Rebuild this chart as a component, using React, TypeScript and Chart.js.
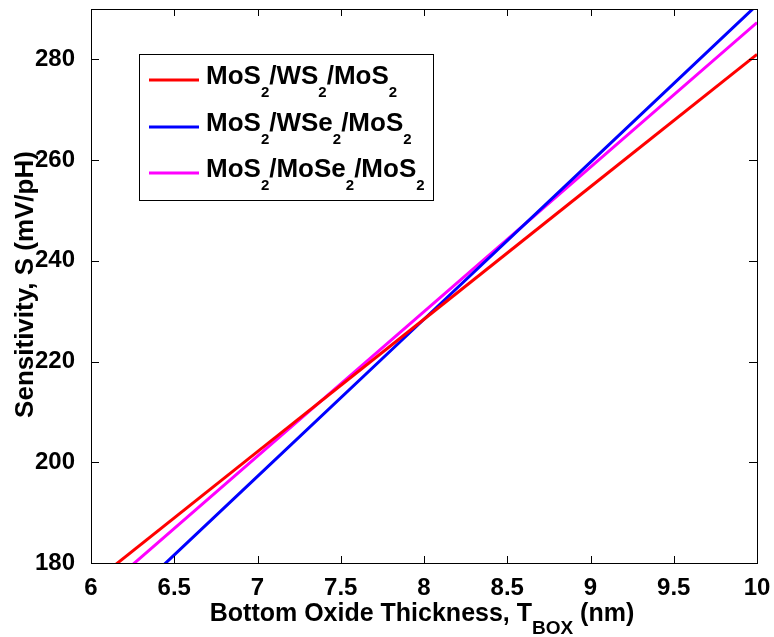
import React, { useEffect, useRef } from "react";
import { Chart, registerables } from "chart.js";

Chart.register(...registerables);

// Bottom oxide thickness T_BOX (nm)
const thickness = [6, 7, 8, 9, 10];
// Sensitivity S (mV/pH)
const mos2Ws2Mos2 = [175.8, 202.1, 228.4, 254.7, 281.0];
const mos2Wse2Mos2 = [166.0, 197.2, 228.4, 259.6, 290.8];
const mos2Mose2Mos2 = [172.5, 201.2, 229.9, 258.6, 287.3];

const xTicks = [6, 6.5, 7, 7.5, 8, 8.5, 9, 9.5, 10];
const yTicks = [180, 200, 220, 240, 260, 280];

const seriesNames = ["MoS2/WS2/MoS2", "MoS2/WSe2/MoS2", "MoS2/MoSe2/MoS2"];
// legend text split into alternating normal / subscript parts
const legendParts = [
  ["MoS", "2", "/WS", "2", "/MoS", "2"],
  ["MoS", "2", "/WSe", "2", "/MoS", "2"],
  ["MoS", "2", "/MoSe", "2", "/MoS", "2"],
];
const seriesColors = ["#ff0000", "#0000ff", "#ff00ff"];

const xTitleParts = ["Bottom Oxide Thickness, T", "BOX", " (nm)"];
const yTitle = "Sensitivity, S (mV/pH)";

const FONT = "'Liberation Sans', Arial, Helvetica, sans-serif";

const decorPlugin = {
  id: "decor",
  afterDatasetsDraw(chart: any) {
    const ctx = chart.ctx as CanvasRenderingContext2D;
    const { left, right, top, bottom } = chart.chartArea;
    const xs = chart.scales.x;
    const ys = chart.scales.y;
    ctx.save();
    ctx.strokeStyle = "#000";
    ctx.lineWidth = 1;
    // frame
    ctx.strokeRect(left + 0.5, top + 0.5, right - left, bottom - top);
    // inner ticks, mirrored on top/right
    ctx.beginPath();
    for (const v of xTicks) {
      const p = Math.round(xs.getPixelForValue(v)) + 0.5;
      ctx.moveTo(p, bottom);
      ctx.lineTo(p, bottom - 7);
      ctx.moveTo(p, top);
      ctx.lineTo(p, top + 7);
    }
    for (const v of yTicks) {
      const p = Math.round(ys.getPixelForValue(v)) + 0.5;
      ctx.moveTo(left, p);
      ctx.lineTo(left + 8, p);
      ctx.moveTo(right, p);
      ctx.lineTo(right - 8, p);
    }
    ctx.stroke();

    // legend
    const lx = 139.5, ly = 54.5, lw = 294, lh = 146;
    ctx.fillStyle = "#fff";
    ctx.fillRect(lx, ly, lw, lh);
    ctx.strokeStyle = "#000";
    ctx.lineWidth = 1;
    ctx.strokeRect(lx, ly, lw, lh);
    const rowY = [80, 127, 173];
    legendParts.forEach((parts, i) => {
      const y = rowY[i];
      ctx.strokeStyle = seriesColors[i];
      ctx.lineWidth = 3;
      ctx.beginPath();
      ctx.moveTo(149, y);
      ctx.lineTo(199, y);
      ctx.stroke();
      let x = 206;
      ctx.fillStyle = "#000";
      ctx.textAlign = "left";
      ctx.textBaseline = "alphabetic";
      parts.forEach((t, k) => {
        const sub = k % 2 === 1;
        ctx.font = `bold ${sub ? 15 : 26}px ${FONT}`;
        ctx.fillText(t, x, sub ? y + 16.5 : y + 4);
        x += ctx.measureText(t).width;
      });
    });

    // x title with subscript
    const mainFont = `bold 25px ${FONT}`;
    const subFont = `bold 19px ${FONT}`;
    let total = 0;
    xTitleParts.forEach((t, k) => {
      ctx.font = k === 1 ? subFont : mainFont;
      total += ctx.measureText(t).width;
    });
    let x = 422 - total / 2;
    ctx.fillStyle = "#000";
    ctx.textAlign = "left";
    ctx.textBaseline = "alphabetic";
    xTitleParts.forEach((t, k) => {
      ctx.font = k === 1 ? subFont : mainFont;
      ctx.fillText(t, x, k === 1 ? 634 : 621);
      x += ctx.measureText(t).width;
    });

    // y title
    ctx.translate(33, 284.5);
    ctx.rotate(-Math.PI / 2);
    ctx.font = `bold 26px ${FONT}`;
    ctx.textAlign = "center";
    ctx.fillText(yTitle, 0, 0);
    ctx.restore();
  },
};

export default function App() {
  const ref = useRef<HTMLCanvasElement | null>(null);
  useEffect(() => {
    if (!ref.current) return;
    const data = [mos2Ws2Mos2, mos2Wse2Mos2, mos2Mose2Mos2];
    const chart = new Chart(ref.current, {
      type: "line",
      data: {
        datasets: data.map((vals, i) => ({
          label: seriesNames[i],
          data: thickness.map((t, j) => ({ x: t, y: vals[j] })),
          borderColor: seriesColors[i],
          backgroundColor: seriesColors[i],
          borderWidth: 3,
          pointRadius: 0,
          tension: 0,
          clip: 0,
        })),
      },
      options: {
        responsive: false,
        animation: false,
        layout: { padding: { top: 9, right: 17, left: 0, bottom: 0 } },
        plugins: { legend: { display: false }, tooltip: { enabled: false } },
        scales: {
          x: {
            type: "linear",
            min: 6,
            max: 10,
            grid: { display: false },
            border: { display: false },
            afterBuildTicks: (s: any) => {
              s.ticks = xTicks.map((v) => ({ value: v }));
            },
            afterFit: (s: any) => {
              s.height = 74;
              s.paddingLeft = 0;
              s.paddingRight = 0;
            },
            ticks: {
              color: "#000",
              padding: 3,
              maxRotation: 0,
              autoSkip: false,
              callback: (v: any) => String(v),
              font: { family: FONT, size: 24, weight: "bold" },
            },
          },
          y: {
            type: "linear",
            min: 180,
            max: 290,
            grid: { display: false },
            border: { display: false },
            afterBuildTicks: (s: any) => {
              s.ticks = yTicks.map((v) => ({ value: v }));
            },
            afterFit: (s: any) => {
              s.width = 91;
              s.paddingTop = 0;
              s.paddingBottom = 0;
            },
            ticks: {
              color: "#000",
              padding: 8,
              autoSkip: false,
              callback: (v: any) => String(v),
              font: { family: FONT, size: 24, weight: "bold" },
            },
          },
        },
      },
      plugins: [decorPlugin],
    });
    return () => chart.destroy();
  }, []);
  return (
    <div style={{ position: "absolute", left: 0, top: 0, width: 774, height: 637, background: "#fff" }}>
      <canvas ref={ref} width={774} height={637} style={{ display: "block" }} />
    </div>
  );
}
